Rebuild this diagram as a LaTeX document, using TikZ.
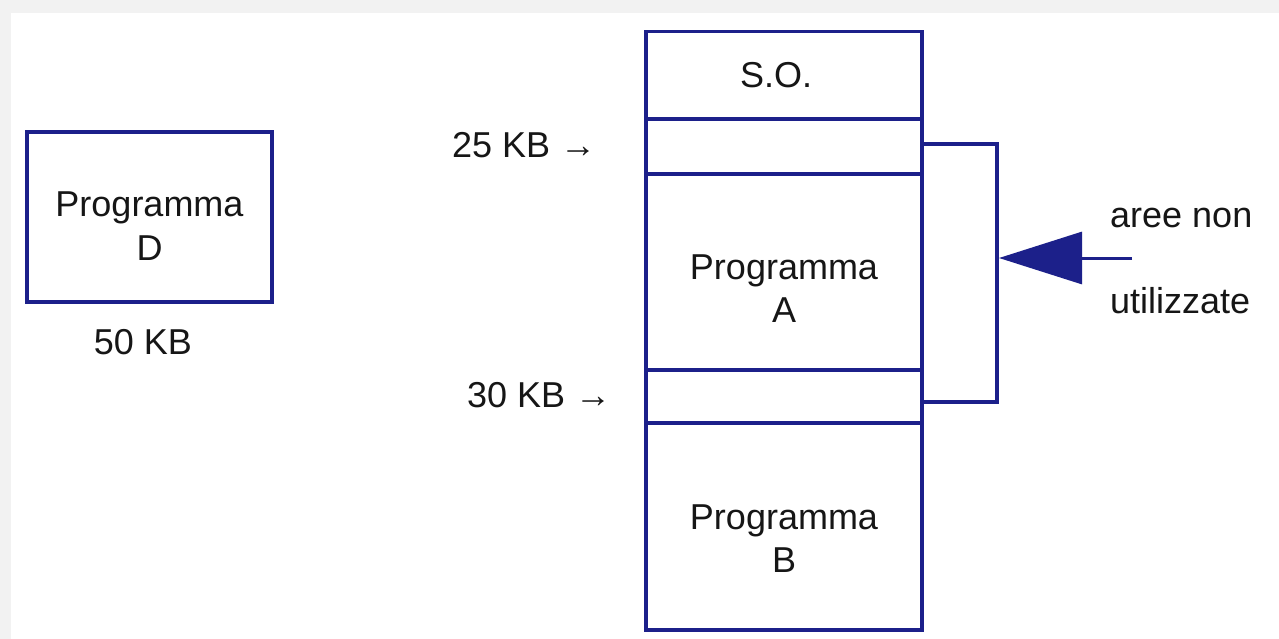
\documentclass[tikz,border=0pt]{standalone}
\usepackage{fontspec}
\setmainfont{Liberation Sans}
\usetikzlibrary{arrows.meta}
\definecolor{navy}{RGB}{28,32,138}
\definecolor{ink}{RGB}{22,22,22}
\definecolor{bggray}{RGB}{242,242,242}
\tikzset{
  cell/.style={draw=navy, line width=3.5pt, inner sep=0pt, minimum width=276pt},
  lbl/.style={text=ink, inner sep=0pt, font=\fontsize{36}{43.5}\selectfont},
  mlbl/.style={lbl, align=center},
  link/.style={draw=navy, line width=3.5pt},
}
\begin{document}
\begin{tikzpicture}[x=1pt,y=-1pt]
\fill[bggray] (0,0) rectangle (1279,639);
\fill[white] (11,13) rectangle (1279,639);
\useasboundingbox (0,0) rectangle (1279,639);

% Programma D
\node[cell, minimum width=245pt, minimum height=170pt] (pd) at (149.5,217) {};
\node[mlbl] (pdt) at (149.5,226) {Programma\\D};
\node[lbl, anchor=base] (kb50) at (143,354) {50 KB};

% memory column
\node[cell, minimum height=87pt] (so) at (784,75) {};
\node[cell, minimum height=55pt] (g1) at (784,146.5) {};
\node[cell, minimum height=196pt] (pa) at (784,272) {};
\node[cell, minimum height=53pt] (g2) at (784,396.5) {};
\node[cell, minimum height=207pt] (pb) at (784,526.5) {};

\node[lbl, anchor=base] (sot) at (776,88) {S.O.};
\node[mlbl] (pat) at (784,288.5) {Programma\\A};
\node[mlbl] (pbt) at (784,538.5) {Programma\\B};

% side labels
\node[lbl, anchor=base west] (l25) at (452,158) {25 KB →};
\node[lbl, anchor=base west] (l30) at (467,407) {30 KB →};

% bracket
\coordinate (bk) at (997,258);
\draw[link] ([yshift=2.5pt]g1.east) -| (bk) |- ([yshift=-5.5pt]g2.east);

% arrow
\coordinate (tail) at (1132,258);
\coordinate (tip) at (999,258);
\draw[navy, line width=3pt, -{Triangle[length=83pt, width=52pt]}] (tail) -- (tip);

\node[lbl, anchor=base west] (t1) at (1110,227) {aree non};
\node[lbl, anchor=base west] (t2) at (1110,313) {utilizzate};
\end{tikzpicture}
\end{document}
